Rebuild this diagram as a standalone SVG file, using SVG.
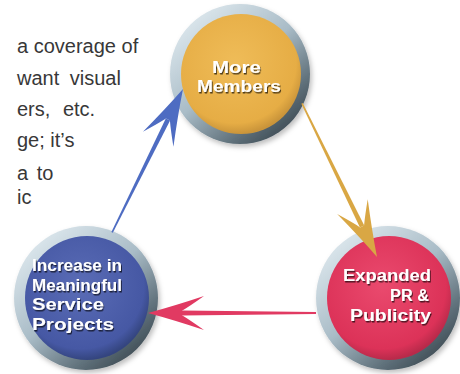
<svg xmlns="http://www.w3.org/2000/svg" width="460" height="374" viewBox="0 0 460 374">
<defs>
<linearGradient id="ring" x1="0.15" y1="0.1" x2="0.85" y2="0.95">
<stop offset="0" stop-color="#dbe6ec"/>
<stop offset="0.45" stop-color="#a9bcc7"/>
<stop offset="0.8" stop-color="#5d6e78"/>
<stop offset="1" stop-color="#3a474f"/>
</linearGradient>
<radialGradient id="fy" cx="0.45" cy="0.4" r="0.6">
<stop offset="0" stop-color="#efbc58"/>
<stop offset="0.85" stop-color="#e6ad45"/>
<stop offset="1" stop-color="#c9943a"/>
</radialGradient>
<radialGradient id="fb" cx="0.45" cy="0.4" r="0.6">
<stop offset="0" stop-color="#5a6cb6"/>
<stop offset="0.85" stop-color="#4658a4"/>
<stop offset="1" stop-color="#34457f"/>
</radialGradient>
<radialGradient id="fr" cx="0.45" cy="0.4" r="0.6">
<stop offset="0" stop-color="#ea4a6e"/>
<stop offset="0.85" stop-color="#dc3258"/>
<stop offset="1" stop-color="#b82a4a"/>
</radialGradient>
<filter id="ts" x="-10%" y="-20%" width="130%" height="150%">
<feDropShadow dx="1" dy="1.5" stdDeviation="0.7" flood-color="#000" flood-opacity="0.65"/>
</filter>
<filter id="cs" x="-20%" y="-20%" width="140%" height="140%">
<feDropShadow dx="2" dy="3" stdDeviation="2.5" flood-color="#000" flood-opacity="0.25"/>
</filter>
<path id="head" d="M0,0 Q-26,-7 -56,-17 Q-42,-7 -34,-2.2 L-34,2.2 Q-42,7 -56,17 Q-26,7 0,0 Z"/>
</defs>
<style>
.body{font-family:"Liberation Sans",Arial,sans-serif;font-size:20px;fill:#383838}
.lbl{font-family:"Liberation Sans Narrow","Liberation Sans",Arial,sans-serif;font-weight:bold;fill:#ffffff;filter:url(#ts)}
.ring{fill:url(#ring);filter:url(#cs)}
</style>
<rect width="460" height="374" fill="#ffffff"/>
<g id="bodytext" class="body">
<text x="17" y="53">a coverage of</text>
<text x="17" y="85" word-spacing="5">want visual</text>
<text x="17" y="116" word-spacing="7">ers, etc.</text>
<text x="17" y="147">ge; it’s</text>
<text x="17" y="180" word-spacing="3">a to</text>
<text x="17" y="204">ic</text>
</g>
<g id="node-more-members">
<circle class="ring" cx="240" cy="74" r="70"/>
<circle cx="241" cy="74" r="60" fill="url(#fy)"/>
<text class="lbl" x="212" y="73" font-size="16" textLength="49" lengthAdjust="spacingAndGlyphs">More</text>
<text class="lbl" x="197" y="92" font-size="16" textLength="84" lengthAdjust="spacingAndGlyphs">Members</text>
</g>
<g id="node-service">
<circle class="ring" cx="86" cy="298" r="72"/>
<circle cx="87" cy="298" r="62" fill="url(#fb)"/>
<text class="lbl" x="32" y="271" font-size="17" textLength="90" lengthAdjust="spacingAndGlyphs">Increase in</text>
<text class="lbl" x="32" y="290.5" font-size="17" textLength="90" lengthAdjust="spacingAndGlyphs">Meaningful</text>
<text class="lbl" x="32" y="310" font-size="17" textLength="72" lengthAdjust="spacingAndGlyphs">Service</text>
<text class="lbl" x="32" y="329.5" font-size="17" textLength="82" lengthAdjust="spacingAndGlyphs">Projects</text>
</g>
<g id="node-pr">
<circle class="ring" cx="388" cy="298" r="72"/>
<circle cx="389" cy="298" r="62" fill="url(#fr)"/>
<text class="lbl" x="343" y="281" font-size="17.2" textLength="88" lengthAdjust="spacingAndGlyphs">Expanded</text>
<text class="lbl" x="390" y="301" font-size="17.2" textLength="39" lengthAdjust="spacingAndGlyphs">PR &amp;</text>
<text class="lbl" x="350" y="321" font-size="17.2" textLength="81" lengthAdjust="spacingAndGlyphs">Publicity</text>
</g>
<g id="connectors">
<g transform="translate(183,89) rotate(-63.7)" fill="#4e6cc2">
<polygon points="-34,-2.4 -160,-0.8 -160,0.8 -34,2.4"/>
<use href="#head"/>
</g>
<g transform="translate(377,257) rotate(64)" fill="#d9a744">
<polygon points="-34,-2.4 -171,-0.8 -171,0.8 -34,2.4"/>
<use href="#head"/>
</g>
<g transform="translate(148,313) rotate(180)" fill="#e13a62">
<polygon points="-34,-2.4 -168,-1 -168,1 -34,2.4"/>
<use href="#head"/>
</g>
</g>
</svg>
